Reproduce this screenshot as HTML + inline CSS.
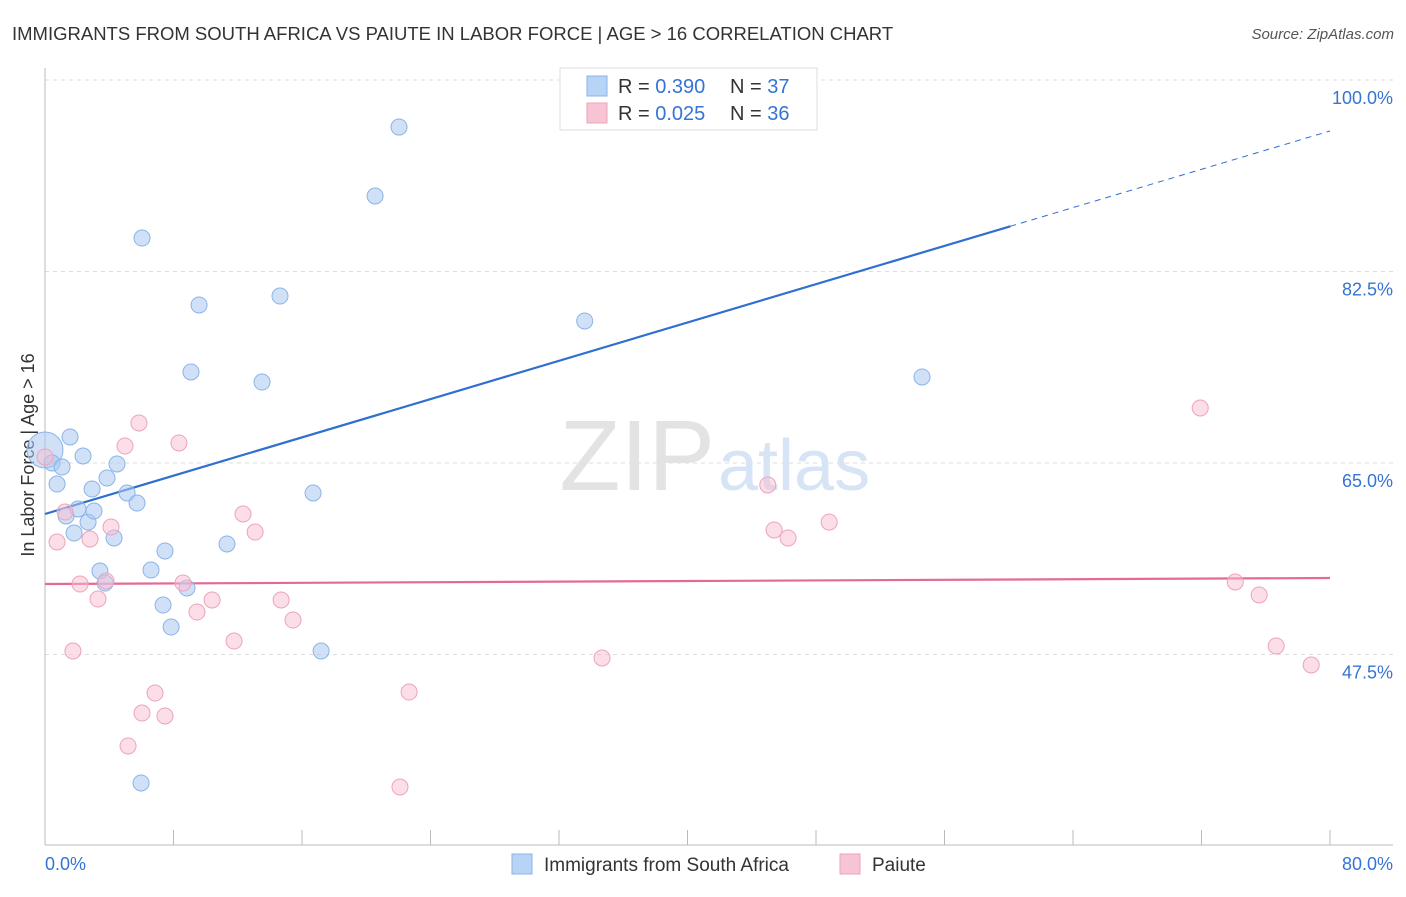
<!DOCTYPE html>
<html><head><meta charset="utf-8"><style>
body{margin:0;background:#fff;font-family:"Liberation Sans",sans-serif;}
svg text{font-family:"Liberation Sans",sans-serif;}
</style></head><body>
<svg width="1406" height="892" viewBox="0 0 1406 892">
<text x="12" y="40" font-size="18.5" fill="#333">IMMIGRANTS FROM SOUTH AFRICA VS PAIUTE IN LABOR FORCE | AGE &gt; 16 CORRELATION CHART</text>
<text x="1394" y="39" font-size="15" fill="#555" text-anchor="end" font-style="italic">Source: ZipAtlas.com</text>
<g id="grid"></g>
<g id="axes"></g>
<text x="715" y="490" font-size="100" fill="#e3e3e3" text-anchor="end" font-family="Liberation Serif">ZIP</text>
<text x="718" y="490" font-size="72" fill="#d6e4f5">atlas</text>
<text transform="translate(34,455) rotate(-90)" font-size="18" fill="#333" text-anchor="middle">In Labor Force | Age &gt; 16</text>
<g id="trend"></g>
<g id="pts"></g>
<g>
<rect x="560" y="68" width="257" height="62" fill="#fff" stroke="#ddd"/>
<rect x="587" y="76" width="20" height="20" fill="#b7d3f5" stroke="#8ab4e8"/>
<rect x="587" y="103" width="20" height="20" fill="#f7c4d4" stroke="#eea3bb"/>
<text x="618" y="93" font-size="20" fill="#333">R = <tspan fill="#3574d4">0.390</tspan></text>
<text x="730" y="93" font-size="20" fill="#333">N = <tspan fill="#3574d4">37</tspan></text>
<text x="618" y="120" font-size="20" fill="#333">R = <tspan fill="#3574d4">0.025</tspan></text>
<text x="730" y="120" font-size="20" fill="#333">N = <tspan fill="#3574d4">36</tspan></text>
</g>
<g>
<rect x="512" y="854" width="20" height="20" fill="#b7d3f5" stroke="#8ab4e8"/>
<text x="544" y="871" font-size="19" fill="#333">Immigrants from South Africa</text>
<rect x="840" y="854" width="20" height="20" fill="#f7c4d4" stroke="#eea3bb"/>
<text x="872" y="871" font-size="19" fill="#333">Paiute</text>
</g>
</svg>
<script>
const yTicks=[100,82.5,65,47.5];
const yTickLabels=["100.0%","82.5%","65.0%","47.5%"];
const xEndLabels=["0.0%","80.0%"];
const blueX=[0,0.44,1.06,0.75,1.56,2.37,2.93,3.86,4.48,5.11,5.73,1.31,2.05,2.68,3.05,1.81,4.3,3.42,3.74,6.6,7.47,7.35,7.85,8.84,6.04,9.59,9.09,13.51,14.63,11.33,16.69,17.19,5.98,20.55,22.04,33.6,54.6];
const blueY=[66.19,65,64.63,63.08,67.38,65.64,62.62,63.63,64.91,62.26,61.34,60.16,60.8,59.6,60.61,58.6,58.15,55.13,54.03,55.22,56.96,52.02,50.01,53.58,85.56,79.44,73.32,72.4,80.26,57.6,62.26,47.82,35.76,89.4,95.7,77.98,72.86];
const pinkX=[0,0.75,1.25,1.74,2.18,2.8,3.3,3.8,4.11,4.98,5.85,8.34,6.85,6.04,7.47,5.17,8.59,9.46,10.4,11.77,12.33,13.08,14.7,15.44,22.67,22.1,34.68,45.0,45.39,46.26,48.82,71.92,74.1,75.59,76.65,78.83];
const pinkY=[65.55,57.78,60.52,47.82,53.94,58.05,52.57,54.22,59.15,66.55,68.66,66.83,43.98,42.15,41.88,39.14,54.03,51.38,52.48,48.73,60.34,58.69,52.48,50.65,44.07,35.39,47.18,62.99,58.88,58.15,59.6,70.03,54.13,52.94,48.28,46.54];
const blueTrend=[60.34,95.34]; const blueSolidEnd=60.1;
const pinkTrend=[53.94,54.49];
const NS="http://www.w3.org/2000/svg";
const X=v=>45+v*(1285/80);
const Y=v=>463-(v-65)*(191.5/17.5);
function mk(tag,attrs,parent){const e=document.createElementNS(NS,tag);for(const k in attrs)e.setAttribute(k,attrs[k]);parent.appendChild(e);return e;}
const grid=document.getElementById('grid'),axes=document.getElementById('axes'),trend=document.getElementById('trend'),pts=document.getElementById('pts');
yTicks.forEach((t,i)=>{
 const l=mk('line',{x1:45,x2:1393,y1:Y(t),y2:Y(t),stroke:'#ddd','stroke-dasharray':'4,4'},grid);
 
 
 const tx=mk('text',{x:1393,y:Y(t)+24,'font-size':18,fill:'#3574d4','text-anchor':'end'},grid);
 tx.textContent=yTickLabels[i];
 
 
});
mk('line',{x1:45,x2:45,y1:68,y2:845,stroke:'#bbb'},axes);
mk('line',{x1:45,x2:1393,y1:845,y2:845,stroke:'#bbb'},axes);
for(let i=1;i<=10;i++){const l=mk('line',{x1:X(i*8),x2:X(i*8),y1:830,y2:845,stroke:'#bbb'},axes);
 
 }
const xl0=mk('text',{x:45,y:870,'font-size':18,fill:'#3574d4'},axes);xl0.textContent=xEndLabels[0];


const xl1=mk('text',{x:1393,y:870,'font-size':18,fill:'#3574d4','text-anchor':'end'},axes);xl1.textContent=xEndLabels[1];


const by=x=>blueTrend[0]+(blueTrend[1]-blueTrend[0])*x/80;
const b1=mk('line',{x1:X(0),y1:Y(by(0)),x2:X(blueSolidEnd),y2:Y(by(blueSolidEnd)),stroke:'#2f6fd0','stroke-width':2.2},trend);


const b2=mk('line',{x1:X(blueSolidEnd),y1:Y(by(blueSolidEnd)),x2:X(80),y2:Y(by(80)),stroke:'#2f6fd0','stroke-width':1,'stroke-dasharray':'6,5'},trend);


const p1=mk('line',{x1:X(0),y1:Y(pinkTrend[0]),x2:X(80),y2:Y(pinkTrend[1]),stroke:'#e46a95','stroke-width':2.2},trend);


blueX.forEach((x,i)=>{const c=mk('circle',{cx:X(x),cy:Y(blueY[i]),r:i===0?18:8,fill:'rgba(170,200,240,0.55)',stroke:'#8ab4e8','stroke-width':1},pts);
 
 });
pinkX.forEach((x,i)=>{const c=mk('circle',{cx:X(x),cy:Y(pinkY[i]),r:8,fill:'rgba(247,190,210,0.5)',stroke:'#eea3bb','stroke-width':1},pts);
 
 });
</script>
</body></html>
